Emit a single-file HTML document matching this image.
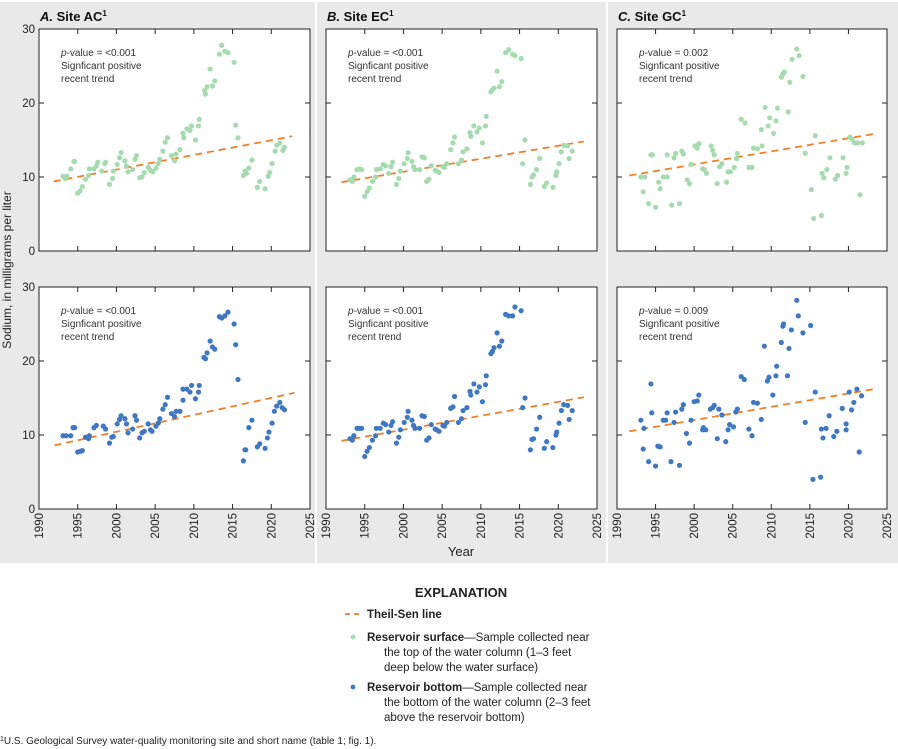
<!DOCTYPE html>
<html><head><meta charset="utf-8"><style>
body{margin:0;background:#fff;}
svg{display:block;font-family:"Liberation Sans",sans-serif;}
</style></head><body>
<svg id="fig" width="898" height="749" viewBox="0 0 898 749">
<rect x="0" y="2" width="315" height="561" fill="#e8e9e8"/>
<rect x="317" y="2" width="289" height="561" fill="#e8e9e8"/>
<rect x="608" y="2" width="290" height="561" fill="#e8e9e8"/>
<text x="11" y="270" transform="rotate(-90 11 270)" text-anchor="middle" font-size="12" fill="#222">Sodium, in milligrams per liter</text>
<text x="461" y="556" text-anchor="middle" font-size="13" fill="#222">Year</text>
<g id="plots"></g>
<text x="461" y="597" text-anchor="middle" font-size="13" font-weight="bold" fill="#222">EXPLANATION</text>
<line x1="345" y1="614" x2="362" y2="614" stroke="#f07f2a" stroke-width="1.8" stroke-dasharray="5,4"/>
<text x="367" y="618" font-size="11.5" font-weight="bold" fill="#222">Theil-Sen line</text>
<circle cx="353" cy="637" r="2.4" fill="#a6dbb0"/>
<text x="367" y="641" font-size="11.5" fill="#222"><tspan font-weight="bold">Reservoir surface</tspan>—Sample collected near</text>
<text x="384" y="656" font-size="11.5" fill="#222">the top of the water column (1–3 feet</text>
<text x="384" y="671" font-size="11.5" fill="#222">deep below the water surface)</text>
<circle cx="353" cy="687" r="2.4" fill="#3f78c0"/>
<text x="367" y="691" font-size="11.5" fill="#222"><tspan font-weight="bold">Reservoir bottom</tspan>—Sample collected near</text>
<text x="384" y="706" font-size="11.5" fill="#222">the bottom of the water column (2–3 feet</text>
<text x="384" y="721" font-size="11.5" fill="#222">above the reservoir bottom)</text>
<text x="0" y="744" font-size="10" fill="#222"><tspan font-size="7" dy="-3">1</tspan><tspan dy="3">U.S. Geological Survey water-quality monitoring site and short name (table 1; fig. 1).</tspan></text>
</svg>
<script>
const xTicks=[1990,1995,2000,2005,2010,2015,2020,2025];
const yTicks=[0,10,20,30];
const aSurfYears=[1993.1,1993.4,1993.6,1994.1,1994.5,1994.6,1995.0,1995.3,1995.6,1996.0,1996.4,1996.5,1997.1,1997.4,1997.6,1998.1,1998.5,1998.6,1999.1,1999.5,1999.6,2000.1,2000.4,2000.6,2001.1,2001.3,2001.5,2002.1,2002.4,2002.6,2003.0,2003.3,2003.6,2004.1,2004.4,2004.7,2005.1,2005.4,2005.6,2006.0,2006.3,2006.6,2007.1,2007.5,2007.7,2008.2,2008.6,2008.7,2009.1,2009.5,2009.7,2010.2,2010.6,2010.7,2011.4,2011.5,2011.7,2012.1,2012.4,2012.7,2013.3,2013.6,2014.0,2014.4,2015.2,2015.4,2015.7,2016.4,2016.6,2016.8,2017.1,2017.5,2018.2,2018.5,2019.2,2019.6,2019.8,2020.1,2020.5,2020.7,2021.1,2021.5,2021.7];
const aSurfVals=[10.1,9.8,10.1,11.1,12.1,12.1,7.8,8.1,8.7,9.7,10.2,11.1,11.1,11.5,12.0,10.8,11.8,12.0,9.0,9.8,10.8,11.7,12.6,13.3,12.2,11.5,10.7,11.0,12.4,12.9,9.9,10.0,10.6,11.3,10.9,10.7,11.2,11.8,12.4,13.5,14.7,15.3,12.9,12.2,13.1,13.7,15.9,15.3,16.5,16.3,16.9,15.0,16.9,17.8,21.7,21.2,22.2,24.6,22.3,23.0,26.6,27.8,27.0,26.8,25.5,17.0,15.3,10.2,10.8,10.5,11.2,12.3,8.6,9.4,8.4,10.1,10.6,11.8,13.5,14.3,14.6,13.6,14.0];
const aBotYears=[1993.1,1993.5,1994.1,1994.4,1994.6,1995.0,1995.4,1995.6,1996.0,1996.4,1996.5,1997.1,1997.4,1998.3,1998.6,1999.1,1999.4,1999.6,2000.1,2000.4,2000.6,2001.1,2001.3,2001.5,2002.1,2002.4,2002.6,2003.0,2003.3,2003.6,2004.1,2004.4,2004.6,2005.1,2005.4,2005.6,2006.0,2006.3,2006.6,2007.1,2007.5,2007.7,2008.2,2008.6,2008.6,2009.1,2009.5,2009.7,2010.2,2010.6,2010.7,2011.3,2011.5,2011.7,2012.1,2012.4,2012.7,2013.3,2013.6,2014.0,2014.4,2015.2,2015.4,2015.7,2016.4,2016.6,2016.7,2017.1,2017.5,2018.2,2018.5,2019.2,2019.5,2019.7,2020.1,2020.4,2020.7,2021.1,2021.4,2021.7];
const aBotVals=[9.9,9.9,9.9,11.0,11.0,7.7,7.8,7.9,9.7,9.5,9.9,11.0,11.3,11.2,10.8,8.9,9.7,9.8,11.5,12.1,12.6,12.2,11.5,10.3,10.8,12.6,12.0,9.6,10.3,10.5,11.5,10.7,10.5,11.2,11.6,12.2,13.5,14.1,15.1,12.9,12.5,13.2,13.2,14.7,16.2,16.2,15.8,16.7,14.9,15.8,16.7,20.5,20.3,21.1,22.7,21.9,21.6,26.0,25.8,26.1,26.6,25.0,22.2,17.5,6.5,8.0,8.0,11.0,12.0,8.4,8.8,8.2,9.6,10.4,11.6,13.2,13.9,14.4,13.7,13.4];
const bBotYears=[1993.1,1993.4,1993.6,1994.0,1994.3,1994.6,1995.0,1995.3,1995.6,1996.0,1996.4,1996.5,1997.0,1997.4,1997.7,1998.1,1998.4,1998.6,1999.1,1999.4,1999.6,2000.1,2000.5,2000.6,2001.1,2001.3,2001.5,2002.1,2002.4,2002.7,2003.0,2003.3,2003.6,2004.1,2004.3,2004.6,2005.1,2005.3,2005.6,2006.1,2006.4,2006.6,2007.1,2007.5,2007.7,2008.2,2008.6,2008.7,2009.1,2009.5,2009.8,2010.2,2010.6,2010.7,2011.3,2011.5,2011.7,2012.1,2012.4,2012.7,2013.2,2013.6,2014.1,2014.4,2015.2,2015.4,2015.7,2016.4,2016.6,2016.8,2017.2,2017.6,2018.2,2018.5,2019.3,2019.7,2019.8,2020.1,2020.4,2020.7,2021.2,2021.4,2021.8];
const bBotVals=[9.5,9.3,9.9,10.9,10.9,10.9,7.1,7.8,8.3,9.3,9.9,10.9,10.9,11.6,11.4,10.4,11.3,11.8,8.9,9.7,10.7,11.7,12.4,13.2,12.0,11.3,10.9,10.9,12.6,12.5,9.3,9.6,11.4,10.8,10.7,10.5,11.3,11.2,11.7,13.6,13.8,15.2,11.7,12.2,13.3,13.7,15.9,15.4,16.9,15.8,16.5,14.5,16.8,18.0,21.0,21.3,21.8,23.8,22.0,22.7,26.3,26.1,26.1,27.3,26.8,13.7,15.0,8.0,9.4,9.5,10.8,12.4,8.2,9.1,8.3,10.0,10.4,11.6,13.3,14.1,14.0,12.1,13.3];
const bSurfYears=bBotYears;
const bSurfVals=[9.6,9.4,10.0,11.0,11.1,11.0,7.4,8.0,8.5,9.4,10.0,11.0,11.1,11.7,11.5,10.5,11.4,12.0,9.0,9.8,10.8,11.8,12.5,13.3,12.1,11.4,11.0,11.0,12.7,12.6,9.4,9.7,11.5,10.9,10.8,10.6,11.4,11.3,11.8,13.7,14.6,15.4,11.8,12.3,13.4,13.8,16.0,15.5,16.9,16.1,16.6,14.6,16.9,18.2,21.5,21.8,22.0,24.3,22.2,22.9,26.8,27.2,26.6,26.4,26.0,11.8,15.0,9.0,10.0,10.3,11.0,12.5,8.7,9.2,8.6,10.2,10.7,11.8,13.4,14.3,14.2,12.5,13.5];
const cSurfYears=[1993.1,1993.6,1993.4,1994.1,1994.4,1994.6,1995.0,1995.4,1995.6,1996.0,1996.5,1996.5,1997.1,1997.4,1997.6,1998.1,1998.4,1998.6,1999.1,1999.4,1999.6,2000.1,2000.4,2000.6,2001.1,2001.3,2001.6,2002.2,2002.4,2002.6,2003.0,2003.3,2003.6,2004.2,2004.4,2004.7,2005.2,2005.5,2005.6,2006.1,2006.6,2007.1,2007.5,2007.7,2008.2,2008.8,2008.7,2009.2,2009.6,2009.8,2010.3,2010.6,2010.8,2011.3,2011.5,2011.7,2012.2,2012.4,2012.7,2013.3,2013.6,2014.1,2014.4,2015.2,2015.5,2015.7,2016.5,2016.6,2016.8,2017.2,2017.6,2018.3,2018.6,2019.3,2019.7,2019.8,2020.2,2020.5,2020.8,2021.2,2021.5,2021.8];
const cSurfVals=[10.0,10.0,8.0,6.4,13.0,13.0,5.9,9.3,8.4,10.0,10.0,13.0,6.2,12.6,13.2,6.4,13.5,13.1,9.6,9.1,11.7,14.2,13.9,14.5,11.1,11.0,10.5,14.2,13.6,13.0,9.1,11.4,11.8,9.3,10.7,10.7,11.3,12.5,13.2,17.8,17.3,11.3,11.3,13.9,13.8,14.2,16.4,19.4,16.9,18.0,15.9,17.6,19.3,23.5,23.9,24.2,18.8,22.8,25.9,27.3,26.4,23.6,13.2,8.3,4.4,15.6,4.8,10.5,9.9,11.0,12.6,9.7,10.2,12.6,10.5,11.3,15.4,15.1,14.6,14.6,7.6,14.6];
const cBotYears=[1993.1,1993.5,1993.4,1994.1,1994.4,1994.5,1995.0,1995.3,1995.6,1996.0,1996.3,1996.5,1997.0,1997.4,1997.6,1998.1,1998.4,1998.6,1999.0,1999.4,1999.6,2000.0,2000.4,2000.6,2001.1,2001.2,2001.5,2002.1,2002.4,2002.6,2003.0,2003.2,2003.6,2004.1,2004.4,2004.6,2005.1,2005.4,2005.6,2006.1,2006.5,2007.1,2007.5,2007.7,2008.2,2008.7,2009.1,2009.5,2009.7,2010.2,2010.6,2010.7,2011.3,2011.5,2011.6,2012.1,2012.3,2012.6,2013.3,2013.5,2014.1,2014.4,2015.1,2015.4,2015.7,2016.4,2016.5,2016.7,2017.1,2017.5,2018.1,2018.5,2019.2,2019.7,2019.7,2020.1,2020.4,2020.7,2021.1,2021.4,2021.7];
const cBotVals=[12.0,10.9,8.1,6.4,16.9,13.0,5.8,8.5,8.4,12.0,12.0,13.0,6.4,11.7,13.1,5.9,13.5,14.1,10.2,8.9,12.0,14.5,14.6,15.4,10.7,11.0,10.7,13.5,13.7,14.0,9.5,13.5,12.7,9.1,10.7,11.4,11.1,13.1,13.5,17.9,17.5,10.8,9.9,14.4,14.3,12.1,22.0,17.3,17.8,15.4,18.0,19.3,22.5,24.7,25.0,18.0,21.7,24.2,28.2,26.1,23.8,11.7,24.8,4.0,15.8,4.3,10.8,9.6,10.9,12.6,9.8,10.5,13.6,10.7,11.5,15.8,13.4,14.4,16.2,7.7,15.3];
// Theil-Sen lines: [startYear, startValue, endYear, endValue]
const trendATop=[1991.9,9.4,2022.7,15.5];
const trendABot=[1992.0,8.6,2023.0,15.7];
const trendBTop=[1992.0,9.3,2023.3,14.8];
const trendBBot=[1992.0,9.2,2023.3,15.1];
const trendCTop=[1991.6,10.2,2023.2,15.8];
const trendCBot=[1991.6,10.5,2023.3,16.2];
const pLabels=["<0.001","<0.001","0.002","<0.001","<0.001","0.009"];

const NS="http://www.w3.org/2000/svg";
const root=document.getElementById('plots');
function mk(tag,attrs,parent){const e=document.createElementNS(NS,tag);for(const k in attrs)e.setAttribute(k,attrs[k]);(parent||root).appendChild(e);return e;}
const cols=[{l:39,r:310},{l:326,r:597},{l:617,r:887}];
const rows=[{t:29,b:251},{t:287,b:509}];
const panels=[
 {c:0,r:0,ys:aSurfYears,vs:aSurfVals,tr:trendATop,color:"#a6dbb0",p:pLabels[0],id:"a-surface"},
 {c:1,r:0,ys:bSurfYears,vs:bSurfVals,tr:trendBTop,color:"#a6dbb0",p:pLabels[1],id:"b-surface"},
 {c:2,r:0,ys:cSurfYears,vs:cSurfVals,tr:trendCTop,color:"#a6dbb0",p:pLabels[2],id:"c-surface"},
 {c:0,r:1,ys:aBotYears,vs:aBotVals,tr:trendABot,color:"#3f78c0",p:pLabels[3],id:"a-bottom"},
 {c:1,r:1,ys:bBotYears,vs:bBotVals,tr:trendBBot,color:"#3f78c0",p:pLabels[4],id:"b-bottom"},
 {c:2,r:1,ys:cBotYears,vs:cBotVals,tr:trendCBot,color:"#3f78c0",p:pLabels[5],id:"c-bottom"}];
const titles=[["A.","Site AC"],["B.","Site EC"],["C.","Site GC"]];
titles.forEach((t,i)=>{
 const tx=mk('text',{x:cols[i].l+1,y:21,'font-size':13,'font-weight':'bold',fill:'#111'});
 
 
 tx.innerHTML='<tspan font-style="italic">'+t[0]+'</tspan> '+t[1]+'<tspan font-size="8" dy="-5">1</tspan>';
});
panels.forEach(P=>{
 const C=cols[P.c],R=rows[P.r];
 const xs=y=>C.l+(y-1990)/35*(C.r-C.l);
 const ysc=v=>R.b-v/30*(R.b-R.t);
 const g=mk('g',{});
 
 
 const fr=mk('rect',{x:C.l,y:R.t,width:C.r-C.l,height:R.b-R.t,fill:'#fff',stroke:'#222','stroke-width':1},g);
 
 
 xTicks.forEach(t=>{const x=xs(t);
  mk('line',{x1:x,x2:x,y1:R.t,y2:R.t+5,stroke:'#222'},g);
  mk('line',{x1:x,x2:x,y1:R.b,y2:R.b-5,stroke:'#222'},g);
  if(P.r===1){const lb=mk('text',{x:0,y:0,transform:`translate(${x+4},${R.b+4}) rotate(-90)`,'text-anchor':'end','font-size':11.5,fill:'#222'},g);
   
   
   lb.textContent=t;}
 });
 yTicks.forEach(v=>{const y=ysc(v);
  mk('line',{x1:C.l,x2:C.l+5,y1:y,y2:y,stroke:'#222'},g);
  mk('line',{x1:C.r,x2:C.r-5,y1:y,y2:y,stroke:'#222'},g);
  if(P.c===0){const lb=mk('text',{x:C.l-4,y:y+4,'text-anchor':'end','font-size':11.5,fill:'#222'},g);
   
   
   lb.textContent=v;}
 });
 const ann=mk('text',{x:C.l+22,y:R.t+27,'font-size':10,fill:'#333'},g);
 
 
 ann.innerHTML='<tspan font-style="italic">p</tspan>-value = '+P.p.replace('<','&lt;')+'<tspan x="'+(C.l+22)+'" dy="13">Signficant positive</tspan><tspan x="'+(C.l+22)+'" dy="13">recent trend</tspan>';
 const ln=mk('line',{x1:xs(P.tr[0]),y1:ysc(P.tr[1]),x2:xs(P.tr[2]),y2:ysc(P.tr[3]),stroke:'#f07f2a','stroke-width':1.8,'stroke-dasharray':'7,5'},g);
 
 
 P.ys.forEach((yr,i)=>{
  const c=mk('circle',{cx:xs(yr),cy:ysc(P.vs[i]),r:2.6,fill:P.color},g);
  
  
 });
});
</script>
</body></html>
